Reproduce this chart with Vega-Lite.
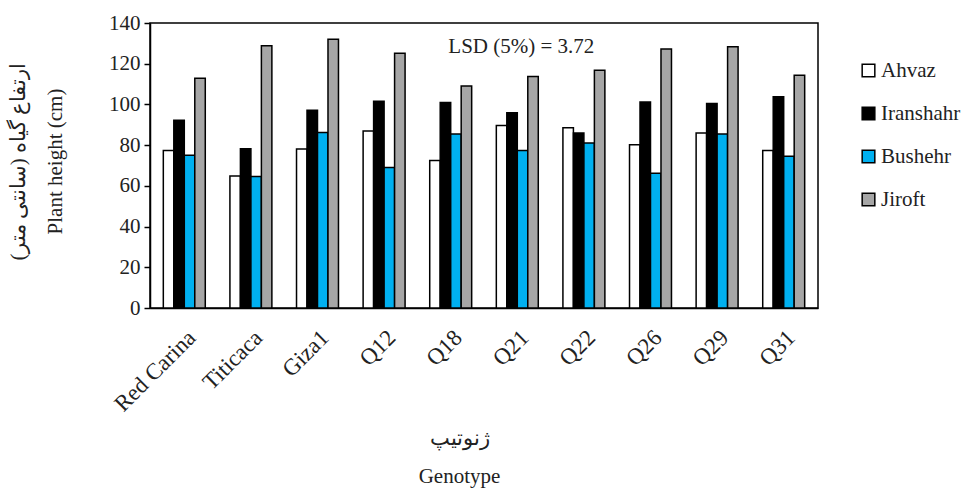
{
  "$schema": "https://vega.github.io/schema/vega-lite/v6.json",
  "autosize": "none",
  "width": 668,
  "height": 285,
  "padding": {"left": 150, "top": 23, "right": 151, "bottom": 183},
  "background": "white",
  "config": {
    "font": "Liberation Serif",
    "view": {"stroke": "#000000", "strokeWidth": 1.5},
    "text": {"font": "Liberation Serif"},
    "axis": {
      "titleFont": "Liberation Serif",
      "titleFontSize": 21,
      "titleFontWeight": "normal",
      "titleColor": "#222222",
      "labelFont": "Liberation Serif",
      "labelFontSize": 21,
      "labelColor": "#222222",
      "domainColor": "#000000",
      "domainWidth": 1.5,
      "grid": false
    },
    "axisX": {
      "titleLineHeight": 38,
      "titlePadding": 12,
      "titleX": 309,
      "labelAngle": -45,
      "labelFontSize": 23,
      "labelPadding": 18,
      "labelDx": -15,
      "labelDy": -5,
      "ticks": false
    },
    "axisY": {
      "titleLineHeight": 37,
      "titlePadding": 43,
      "titleY": 138,
      "labelPadding": 4,
      "tickSize": 6,
      "tickColor": "#000000",
      "tickWidth": 1.5
    }
  },
  "datasets": {
    "bars": [
      {"genotype": "Red Carina", "site": "Ahvaz", "height": 77.4},
      {"genotype": "Red Carina", "site": "Iranshahr", "height": 92.2},
      {"genotype": "Red Carina", "site": "Bushehr", "height": 75.0},
      {"genotype": "Red Carina", "site": "Jiroft", "height": 112.8},
      {"genotype": "Titicaca", "site": "Ahvaz", "height": 64.9},
      {"genotype": "Titicaca", "site": "Iranshahr", "height": 78.2},
      {"genotype": "Titicaca", "site": "Bushehr", "height": 64.6},
      {"genotype": "Titicaca", "site": "Jiroft", "height": 128.8},
      {"genotype": "Giza1", "site": "Ahvaz", "height": 78.1},
      {"genotype": "Giza1", "site": "Iranshahr", "height": 97.2},
      {"genotype": "Giza1", "site": "Bushehr", "height": 86.2},
      {"genotype": "Giza1", "site": "Jiroft", "height": 132.0},
      {"genotype": "Q12", "site": "Ahvaz", "height": 87.0},
      {"genotype": "Q12", "site": "Iranshahr", "height": 101.6},
      {"genotype": "Q12", "site": "Bushehr", "height": 69.0},
      {"genotype": "Q12", "site": "Jiroft", "height": 125.2},
      {"genotype": "Q18", "site": "Ahvaz", "height": 72.5},
      {"genotype": "Q18", "site": "Iranshahr", "height": 101.0},
      {"genotype": "Q18", "site": "Bushehr", "height": 85.5},
      {"genotype": "Q18", "site": "Jiroft", "height": 109.0},
      {"genotype": "Q21", "site": "Ahvaz", "height": 89.6},
      {"genotype": "Q21", "site": "Iranshahr", "height": 95.9},
      {"genotype": "Q21", "site": "Bushehr", "height": 77.4},
      {"genotype": "Q21", "site": "Jiroft", "height": 113.7},
      {"genotype": "Q22", "site": "Ahvaz", "height": 88.5},
      {"genotype": "Q22", "site": "Iranshahr", "height": 86.0},
      {"genotype": "Q22", "site": "Bushehr", "height": 81.0},
      {"genotype": "Q22", "site": "Jiroft", "height": 116.8},
      {"genotype": "Q26", "site": "Ahvaz", "height": 80.2},
      {"genotype": "Q26", "site": "Iranshahr", "height": 101.2},
      {"genotype": "Q26", "site": "Bushehr", "height": 66.2},
      {"genotype": "Q26", "site": "Jiroft", "height": 127.2},
      {"genotype": "Q29", "site": "Ahvaz", "height": 86.0},
      {"genotype": "Q29", "site": "Iranshahr", "height": 100.5},
      {"genotype": "Q29", "site": "Bushehr", "height": 85.5},
      {"genotype": "Q29", "site": "Jiroft", "height": 128.3},
      {"genotype": "Q31", "site": "Ahvaz", "height": 77.4},
      {"genotype": "Q31", "site": "Iranshahr", "height": 103.8},
      {"genotype": "Q31", "site": "Bushehr", "height": 74.5},
      {"genotype": "Q31", "site": "Jiroft", "height": 114.3}
    ],
    "note": [
      {"genotype": "Q21", "value": 128, "label": "LSD (5%) = 3.72"}
    ]
  },
  "layer": [
    {
      "data": {"name": "bars"},
      "mark": {"type": "bar", "stroke": "#000000", "strokeWidth": 1.5},
      "encoding": {
        "x": {
          "field": "genotype",
          "type": "nominal",
          "scale": {
            "domain": ["Red Carina", "Titicaca", "Giza1", "Q12", "Q18", "Q21", "Q22", "Q26", "Q29", "Q31"],
            "paddingInner": 0.37,
            "paddingOuter": 0.2
          },
          "axis": {"title": ["ژنوتیپ", "Genotype"]}
        },
        "xOffset": {
          "field": "site",
          "type": "nominal",
          "scale": {
            "domain": ["Ahvaz", "Iranshahr", "Bushehr", "Jiroft"],
            "paddingInner": 0,
            "paddingOuter": 0
          }
        },
        "y": {
          "field": "height",
          "type": "quantitative",
          "scale": {"domain": [0, 140], "nice": false},
          "axis": {
            "title": ["ارتفاع گیاه (سانتی متر)", "Plant height  (cm)"],
            "values": [0, 20, 40, 60, 80, 100, 120, 140]
          }
        },
        "fill": {
          "field": "site",
          "type": "nominal",
          "scale": {
            "domain": ["Ahvaz", "Iranshahr", "Bushehr", "Jiroft"],
            "range": ["#FFFFFF", "#000000", "#00B0F0", "#A6A6A6"]
          },
          "legend": {
            "title": null,
            "orient": "none",
            "legendX": 708,
            "legendY": 37,
            "symbolType": "square",
            "symbolSize": 160,
            "symbolStrokeColor": "#000000",
            "symbolStrokeWidth": 1.5,
            "labelFont": "Liberation Serif",
            "labelFontSize": 21,
            "labelColor": "#222222",
            "labelOffset": 2,
            "rowPadding": 21
          }
        }
      }
    },
    {
      "data": {"name": "note"},
      "mark": {"type": "text", "font": "Liberation Serif", "fontSize": 21, "color": "#222222", "baseline": "middle", "align": "center", "dx": 4},
      "encoding": {
        "x": {"field": "genotype", "type": "nominal", "axis": {"title": ["ژنوتیپ", "Genotype"]}},
        "y": {"field": "value", "type": "quantitative", "axis": {"title": ["ارتفاع گیاه (سانتی متر)", "Plant height  (cm)"], "values": [0, 20, 40, 60, 80, 100, 120, 140]}},
        "text": {"field": "label"}
      }
    }
  ]
}
